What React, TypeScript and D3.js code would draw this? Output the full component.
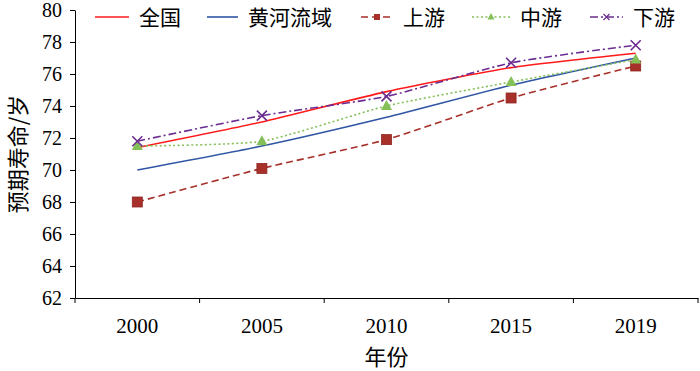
import * as d3 from "d3";
import React, { useEffect, useRef } from "react";

const years = ["2000", "2005", "2010", "2015", "2019"];
const national = [71.4, 73.0, 74.9, 76.4, 77.3];
const yellowRiver = [70.0, 71.5, 73.3, 75.3, 77.0];
const upper = [68.0, 70.1, 71.9, 74.5, 76.5];
const middle = [71.5, 71.8, 74.0, 75.5, 76.9];
const lower = [71.8, 73.4, 74.6, 76.7, 77.8];
const yTicks = [62, 64, 66, 68, 70, 72, 74, 76, 78, 80];

const seriesDefs = [
  { name: "全国", values: national, color: "#ff1a1a", dash: "", marker: "none" },
  { name: "黄河流域", values: yellowRiver, color: "#2f55a4", dash: "", marker: "none" },
  { name: "上游", values: upper, color: "#a8302b", dash: "7,4", marker: "square" },
  { name: "中游", values: middle, color: "#84c057", dash: "2,2.5", marker: "triangle" },
  { name: "下游", values: lower, color: "#6b2c91", dash: "8,3,2,3", marker: "cross" },
];

const W = 700;
const H = 371;
const left = 75;
const right = 698;
const top = 10;
const bottom = 298;
const numFont = "'Liberation Serif', 'Times New Roman', serif";
const cjkFont = "'Noto Sans CJK SC', sans-serif";

function drawMarker(g: any, type: string, x: number, y: number, color: string) {
  if (type === "square") {
    g.append("rect").attr("x", x - 5).attr("y", y - 5).attr("width", 10).attr("height", 10)
      .attr("fill", color).attr("stroke", "#8e2520").attr("stroke-width", 0.8);
  } else if (type === "triangle") {
    g.append("path").attr("d", `M${x},${y - 6}L${x + 5.5},${y + 4}L${x - 5.5},${y + 4}Z`)
      .attr("fill", color);
  } else if (type === "cross") {
    g.append("path").attr("d", `M${x - 5},${y - 5}L${x + 5},${y + 5}M${x - 5},${y + 5}L${x + 5},${y - 5}`)
      .attr("stroke", color).attr("stroke-width", 1.6).attr("fill", "none");
  }
}

export default function App() {
  const svgRef = useRef<SVGSVGElement>(null);

  useEffect(() => {
    document.body.style.margin = "0";
    const svg = d3.select(svgRef.current);
    svg.selectAll("*").remove();

    const xScale = d3.scaleBand().domain(years).range([left, right]);
    const yScale = d3.scaleLinear().domain([62, 80]).range([bottom, top]);
    const cx = (d: string) => (xScale(d) as number) + xScale.bandwidth() / 2;

    // axes
    const yAxis = svg.append("g").attr("transform", `translate(${left},0)`)
      .call(d3.axisLeft(yScale).tickValues(yTicks).tickSize(5).tickSizeOuter(0).tickPadding(8));
    yAxis.selectAll("text").attr("font-family", numFont).attr("font-size", 20).attr("fill", "#000");
    yAxis.selectAll("line, path").attr("stroke", "#000");

    const xAxis = svg.append("g").attr("transform", `translate(0,${bottom})`)
      .call(d3.axisBottom(xScale).tickSize(0).tickSizeOuter(0).tickPadding(20));
    xAxis.selectAll("text").attr("font-family", numFont).attr("font-size", 21).attr("fill", "#000");
    xAxis.select("path").attr("stroke", "#000");
    // boundary ticks between categories
    const bounds = years.map((d) => xScale(d) as number).concat([right]);
    xAxis.selectAll(".bound").data(bounds).enter().append("line")
      .attr("x1", (d) => d).attr("x2", (d) => d).attr("y1", 0).attr("y2", 5).attr("stroke", "#000");

    // lines
    const line = d3.line<number>()
      .x((_, i) => cx(years[i]))
      .y((d) => yScale(d))
      .curve(d3.curveCardinal.tension(0.4));

    seriesDefs.forEach((s) => {
      svg.append("path").attr("d", line(s.values) as string)
        .attr("fill", "none").attr("stroke", s.color).attr("stroke-width", 1.6)
        .attr("stroke-dasharray", s.dash || null);
      const mg = svg.append("g");
      s.values.forEach((v, i) => drawMarker(mg, s.marker, cx(years[i]), yScale(v), s.color));
    });

    // legend
    const legendX = [95, 207, 361, 472, 590];
    const legendLen = [34, 31, 32, 38, 33];
    const legendY = 17;
    seriesDefs.forEach((s, i) => {
      const lg = svg.append("g");
      const x0 = legendX[i];
      lg.append("line").attr("x1", x0).attr("x2", x0 + legendLen[i]).attr("y1", legendY).attr("y2", legendY)
        .attr("stroke", s.color).attr("stroke-width", 1.6).attr("stroke-dasharray", s.dash || null);
      if (s.marker === "square") {
        lg.append("rect").attr("x", x0 + legendLen[i] / 2 - 3).attr("y", legendY - 3)
          .attr("width", 6).attr("height", 6).attr("fill", s.color);
      } else if (s.marker === "triangle") {
        const m = x0 + legendLen[i] / 2;
        lg.append("path").attr("d", `M${m},${legendY - 4}L${m + 3.5},${legendY + 2.5}L${m - 3.5},${legendY + 2.5}Z`)
          .attr("fill", s.color);
      } else if (s.marker === "cross") {
        const m = x0 + legendLen[i] / 2;
        lg.append("path").attr("d", `M${m - 3},${legendY - 3}L${m + 3},${legendY + 3}M${m - 3},${legendY + 3}L${m + 3},${legendY - 3}`)
          .attr("stroke", s.color).attr("stroke-width", 1.2);
      }
      lg.append("text").attr("x", x0 + legendLen[i] + 10).attr("y", legendY).attr("dy", "0.36em")
        .attr("font-family", cjkFont).attr("font-size", 21).attr("fill", "#000").text(s.name);
    });

    // axis titles
    svg.append("text").attr("x", (left + right) / 2).attr("y", 357).attr("dy", "0.35em")
      .attr("text-anchor", "middle").attr("font-family", cjkFont).attr("font-size", 22)
      .attr("fill", "#000").text("年份");
    svg.append("text").attr("transform", `translate(18,${(top + bottom) / 2}) rotate(-90)`)
      .attr("dy", "0.35em").attr("text-anchor", "middle").attr("font-family", cjkFont)
      .attr("font-size", 22).attr("fill", "#000").text("预期寿命/岁");
  }, []);

  return <svg ref={svgRef} width={W} height={H} style={{ display: "block", background: "#fff" }} />;
}
